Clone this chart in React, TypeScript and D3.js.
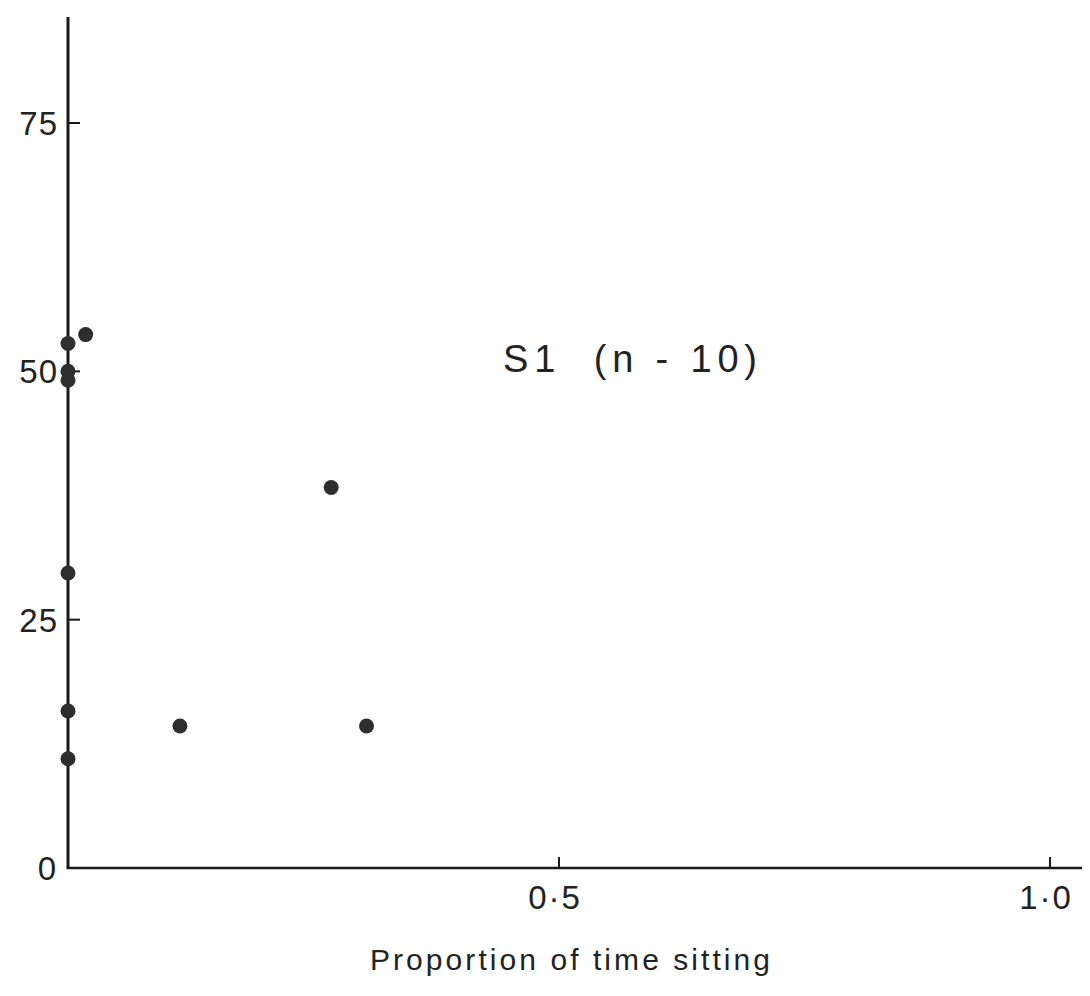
import React from "react";
import * as d3 from "d3";

const proportionSitting = [0, 0.018, 0, 0, 0, 0, 0, 0.114, 0.304, 0.268];
const counts = [52.8, 53.7, 50.0, 49.1, 29.7, 15.8, 11.0, 14.3, 14.3, 38.3];
const yTicks = [0, 25, 50, 75];
const xTicks = [0.5, 1.0];
const xTickLabels = ["0·5", "1·0"];
const title = "S1  (n - 10)";
const xLabel = "Proportion of time sitting";

const W = 1090;
const H = 996;

export default function App() {
  const x = d3.scaleLinear().domain([0, 1]).range([68, 1050]);
  const y = d3.scaleLinear().domain([0, 75]).range([868, 123]);
  const font = "'Liberation Sans', Arial, sans-serif";
  const ink = "#1a1a1a";
  return (
    <svg
      width={W}
      height={H}
      style={{ position: "absolute", left: 0, top: 0, background: "#fff" }}
    >
      <rect x={0} y={0} width={W} height={H} fill="#fff" />
      {/* axes */}
      <line x1={x(0)} x2={x(0)} y1={17} y2={y(0)} stroke={ink} strokeWidth={3} />
      <line x1={x(0) - 1.5} x2={1082} y1={y(0)} y2={y(0)} stroke={ink} strokeWidth={2.5} />
      {/* y ticks */}
      {yTicks.map((t) => (
        <g key={"y" + t}>
          {t !== 0 && (
            <line x1={x(0)} x2={x(0) + 12} y1={y(t)} y2={y(t)} stroke={ink} strokeWidth={2} />
          )}
          <text
            x={t === 0 ? 57 : 58}
            y={y(t)}
            dy="0.36em"
            textAnchor="end"
            fontFamily={font}
            fontSize={33}
            fill="#222"
            letterSpacing={1}
          >
            {t}
          </text>
        </g>
      ))}
      {/* x ticks */}
      {xTicks.map((t, i) => (
        <g key={"x" + t}>
          <line x1={x(t)} x2={x(t)} y1={y(0) - 11} y2={y(0)} stroke={ink} strokeWidth={2} />
          <text
            x={x(t) - 4}
            y={909}
            textAnchor="middle"
            fontFamily={font}
            fontSize={33}
            fill="#222"
            letterSpacing={2}
          >
            {xTickLabels[i]}
          </text>
        </g>
      ))}
      {/* points */}
      {proportionSitting.map((p, i) => (
        <circle key={i} cx={x(p)} cy={y(counts[i])} r={7.5} fill="#2e2e2e" />
      ))}
      {/* title */}
      <text
        x={503}
        y={372}
        fontFamily={font}
        fontSize={38}
        fill="#222"
        textLength={254}
        lengthAdjust="spacing"
        style={{ whiteSpace: "pre" }}
      >
        {title}
      </text>
      {/* x label */}
      <text
        x={370}
        y={970}
        fontFamily={font}
        fontSize={30}
        fill="#222"
        textLength={400}
        lengthAdjust="spacing"
      >
        {xLabel}
      </text>
    </svg>
  );
}
